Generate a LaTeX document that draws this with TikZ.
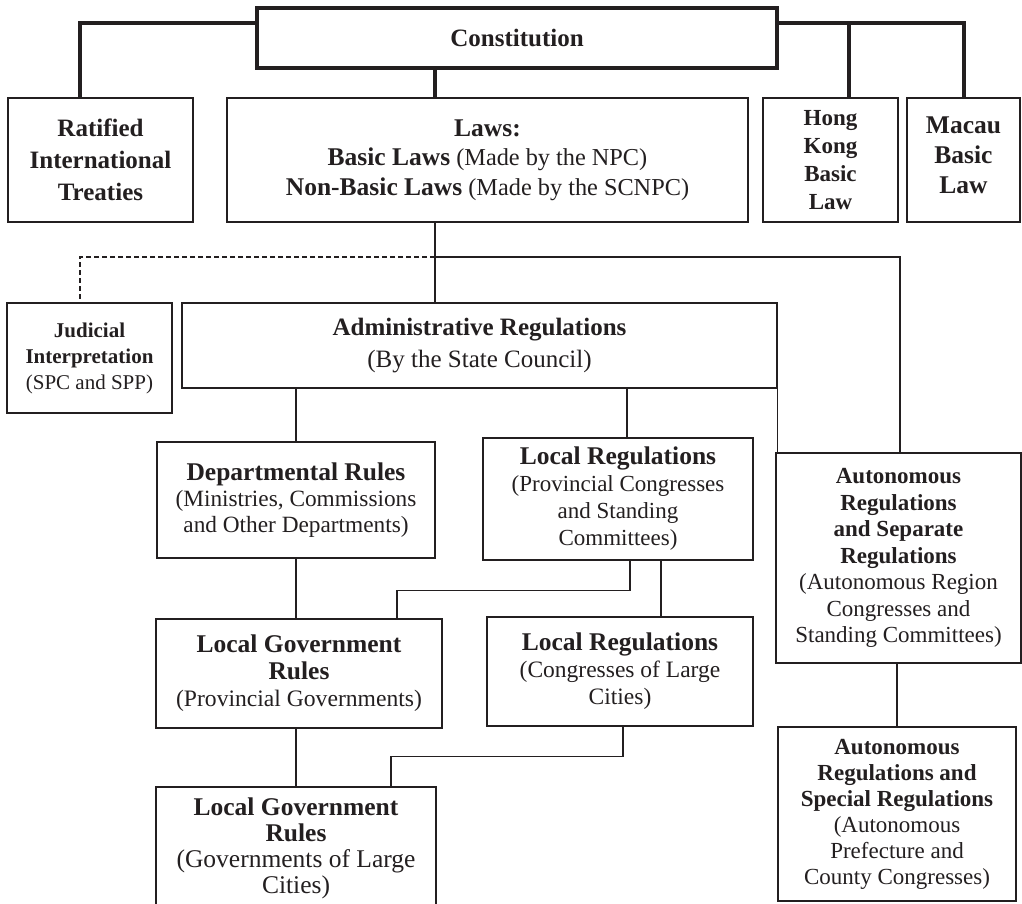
\documentclass[tikz,border=0pt]{standalone}
\usepackage{fontspec}
\setmainfont{Liberation Serif}
\usepackage{xcolor}
\usepackage{tikz}
\usetikzlibrary{positioning}
\definecolor{ink}{RGB}{35,31,32}
\newcommand{\fsz}[2]{\fontsize{#1}{#2}\selectfont}
\newcommand{\hd}[1]{{\fontsize{25.5}{27}\selectfont\bfseries #1}}

\begin{document}
\begin{tikzpicture}[x=1pt, y=-1pt,
					box/.style={draw=ink, text=ink, line width=1.4pt, align=center, inner sep=0pt},
					link/.style={draw=ink, line width=1.4pt},
					biglink/.style={draw=ink, line width=4pt},
					dlink/.style={draw=ink, line width=1.4pt, dash pattern=on 5pt off 3pt}]

					\path[use as bounding box, fill=white] (0,0) rectangle (1022,904);

					\node[box, line width=4pt, minimum width=520pt, minimum height=60pt, font=\fsz{25}{30}\bfseries] (const) at (517,38) {Constitution};
					\node[box, minimum width=185pt, minimum height=124pt, font=\fsz{25}{32}\bfseries] (treaty) at (100.5,160) {Ratified\\International\\Treaties};
					\node[box, minimum width=521pt, minimum height=124pt, font=\fsz{24.3}{29.5}] (laws) at (487.5,160) {\hd{Laws:}\\\hd{Basic Laws} (Made by the NPC)\\\hd{Non-Basic Laws} (Made by the SCNPC)};
					\node[box, minimum width=135pt, minimum height=124pt, font=\fsz{23}{28}\bfseries] (hk) at (830.5,160) {Hong\\Kong\\Basic\\Law};
					\node[box, minimum width=113pt, minimum height=124pt, text depth=10pt, font=\fsz{25.5}{30}\bfseries] (macau) at (963.5,160) {Macau\\Basic\\Law};

					\node[box, minimum width=165pt, minimum height=110pt, font=\fsz{21}{26}] (judicial) at (89.5,358) {\textbf{Judicial}\\\textbf{Interpretation}\\(SPC and SPP)};
					\node[box, minimum width=595pt, minimum height=85pt, font=\fsz{25}{32}] (admin) at (479.5,345.5) {\textbf{Administrative Regulations}\\(By the State Council)};

					\node[box, minimum width=278pt, minimum height=116pt, font=\fsz{23.3}{26}] (dept) at (296,500) {\hd{Departmental Rules}\\(Ministries, Commissions\\and Other Departments)};
					\node[box, minimum width=270pt, minimum height=122pt, font=\fsz{23}{27}] (locreg) at (618,499) {\hd{Local Regulations}\\(Provincial Congresses\\and Standing\\Committees)};
					\node[box, minimum width=245pt, minimum height=210pt, font=\fsz{23}{26.5}] (auto) at (898.5,558) {\textbf{Autonomous}\\\textbf{Regulations}\\\textbf{and Separate}\\\textbf{Regulations}\\(Autonomous Region\\Congresses and\\Standing Committees)};

					\node[box, minimum width=286pt, minimum height=109pt, font=\fsz{23.6}{27}] (lgr1) at (299,673.5) {\hd{Local Government}\\\hd{Rules}\\(Provincial Governments)};
					\node[box, minimum width=266pt, minimum height=109pt, font=\fsz{23.5}{27}] (lr2) at (620,671.5) {\hd{Local Regulations}\\(Congresses of Large\\Cities)};

					\node[box, minimum width=280pt, minimum height=122pt, font=\fsz{25.5}{26}] (lgr2) at (296,848) {\hd{Local Government}\\\hd{Rules}\\(Governments of Large\\Cities)};
					\node[box, minimum width=238pt, minimum height=174pt, font=\fsz{23}{26}] (auto2) at (897,814) {\textbf{Autonomous}\\\textbf{Regulations and}\\\textbf{Special Regulations}\\(Autonomous\\Prefecture and\\County Congresses)};

					\coordinate (spine) at (435,257);

					\draw[biglink] ([yshift=-17pt]const.north west) -| ([xshift=-20.5pt]treaty.north);
					\draw[biglink] ([yshift=-17pt]const.north east) -| (macau.north);
					\draw[biglink] ([xshift=18pt]hk.north) |- ([yshift=-17pt]const.north east);
					\draw[biglink] (const.south -| spine) -- (laws.north -| spine);

					\draw[link] (laws.south -| spine) -- (admin.north -| spine);
					\draw[dlink] (spine) -| ([xshift=-9.5pt]judicial.north);
					\draw[link] (spine) -| ([xshift=1.5pt]auto.north);

					\draw[link] (dept.north) -- (dept.north |- admin.south);
					\draw[link] ([xshift=9pt]locreg.north) -- ([xshift=9pt]locreg.north |- admin.south);
					\draw[link] (admin.south east) -- (admin.south east |- auto.north);

					\draw[link] (dept.south) -- (dept.south |- lgr1.north);
					\draw[link] ([xshift=12pt]locreg.south) -- ++(0,30) -| ([xshift=98pt]lgr1.north);
					\draw[link] ([xshift=41pt]lr2.north) -- ([xshift=41pt]lr2.north |- locreg.south);

					\draw[link] (lgr2.north) -- (lgr2.north |- lgr1.south);
					\draw[link] ([xshift=3pt]lr2.south) -- ++(0,30) -| ([xshift=95pt]lgr2.north);
					\draw[link] (auto2.north) -- (auto2.north |- auto.south);
				\end{tikzpicture}
\end{document}
